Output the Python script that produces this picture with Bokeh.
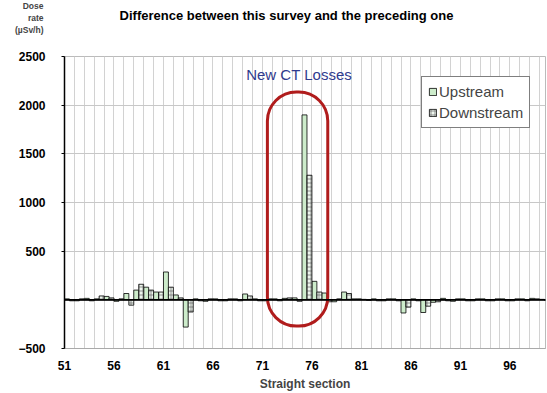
from bokeh.plotting import figure
from bokeh.layouts import column
from bokeh.models import (ColumnDataSource, FixedTicker, SingleIntervalTicker, Span, Label,
                          Legend, LegendItem, Range1d, LinearAxis)
from bokeh.embed import file_html
from bokeh.resources import INLINE
from bokeh.core.properties import value

# ---- data ----
sections = list(range(51, 100))
upstream = [10, -10, 15, 10, 35, -15, 65, 100, 130, 80,
            286, 50, -280, 10, -15, 10, -10, 10, 60, 10,
            -10, 10, 15, 20, 1900, 190, 70, -20, 80, 10,
            5, 10, -10, 10, -135, 10, -130, -25, 15, -15,
            10, -10, 10, -10, 10, -10, 10, 15, 5]
downstream = [-10, 10, -10, 40, 20, 10, -55, 160, 100, 80,
              130, 20, -125, -10, 10, -10, 10, -10, 40, -10,
              10, -10, 20, -15, 1280, 80, -20, 10, 65, 10,
              -5, -10, 10, -10, -75, -10, -65, -20, -10, 10,
              -10, 10, -10, 10, -10, 10, -10, 10, -5]
x_ticks = [51, 56, 61, 66, 71, 76, 81, 86, 91, 96]
y_ticks = [-500, 500, 1000, 1500, 2000, 2500]
title_text = "Difference between this survey and the preceding one"
y_label_text = "Dose\nrate\n(\u00b5Sv/h)"
x_label = "Straight section"
series_names = ["Upstream", "Downstream"]
note_text = "New CT Losses"
note_pos = [74.7, 2310]
highlight_box = [71.5, 77.6, -270, 2135]  # left, right, bottom, top

FONT = "Liberation Sans"
W, HEADER_H, H = 547, 48, 393
FRAME_L, FRAME_R = 64, 2

# ---- header strip holding the title and the unit label ----
head = figure(width=W, height=HEADER_H, output_backend="svg", toolbar_location=None,
              x_range=Range1d(FRAME_L, W - FRAME_R), y_range=Range1d(14, HEADER_H),
              x_axis_type=None, y_axis_type=None,
              min_border_left=FRAME_L, min_border_right=FRAME_R,
              min_border_top=0, min_border_bottom=14)
head.outline_line_color = None
head.grid.visible = False
head.background_fill_color = "white"
head.border_fill_color = "white"
head.add_layout(Label(x=286, y=HEADER_H - 15, text=title_text, text_align="center",
                      text_baseline="middle", text_font=FONT, text_font_style="bold",
                      text_font_size="13px", text_color="black"))
unit_axis = LinearAxis(ticker=FixedTicker(ticks=[]), axis_line_color=None,
                       major_tick_line_color=None, minor_tick_line_color=None,
                       major_label_text_font_size="0px",
                       axis_label=y_label_text, axis_label_orientation="horizontal",
                       axis_label_text_font=FONT, axis_label_text_font_style="bold",
                       axis_label_text_font_size="8.5px", axis_label_standoff=21,
                       axis_label_text_align="center", axis_label_text_line_height=1.2)
head.add_layout(unit_axis, "left")

# ---- main chart ----
p = figure(width=W, height=H - HEADER_H, output_backend="svg", toolbar_location=None,
           x_range=Range1d(51, 99.6), y_range=Range1d(-500, 2500),
           min_border_left=FRAME_L, min_border_right=FRAME_R, min_border_top=8,
           min_border_bottom=45)
p.background_fill_color = "white"
p.border_fill_color = "white"
p.outline_line_color = "#bbbbbb"

src = ColumnDataSource(dict(
    left_u=[s for s in sections], right_u=[s + 0.5 for s in sections],
    left_d=[s + 0.5 for s in sections], right_d=[s + 1.0 for s in sections],
    up=upstream, down=downstream, zero=[0] * len(sections)))

r_up = p.quad(left="left_u", right="right_u", bottom="zero", top="up", source=src,
              fill_color="#cdeccb", line_color="black", line_width=0.8)
r_dn = p.quad(left="left_d", right="right_d", bottom="zero", top="down", source=src,
              fill_color="#eef6ee", line_color="black", line_width=0.8,
              hatch_pattern="+", hatch_scale=4, hatch_color="#666666", hatch_weight=0.7)

p.add_layout(Span(location=0, dimension="width", line_color="black", line_width=1.6))

# highlight capsule
hb = dict(left=[highlight_box[0]], right=[highlight_box[1]],
          bottom=[highlight_box[2]], top=[highlight_box[3]])
p.quad(source=ColumnDataSource(hb), left="left", right="right", bottom="bottom", top="top",
       fill_alpha=0, line_color="#b01c1c", line_width=3, border_radius=29)

p.add_layout(Label(x=note_pos[0], y=note_pos[1], text=note_text, text_align="center",
                   text_baseline="middle", text_font=FONT, text_font_size="15px",
                   text_color="#2f3b8e"))

# axes
p.xaxis.ticker = FixedTicker(ticks=x_ticks)
p.yaxis.ticker = FixedTicker(ticks=y_ticks)
for ax in (p.xaxis, p.yaxis):
    ax.major_label_text_font = FONT
    ax.major_label_text_font_style = "bold"
    ax.major_label_text_font_size = "12px"
    ax.major_label_text_color = "black"
    ax.minor_tick_line_color = None
p.xaxis.axis_line_color = "#aaaaaa"
p.xaxis.major_tick_line_color = None
p.xaxis.major_label_standoff = 6
p.xaxis.axis_label = x_label
p.xaxis.axis_label_text_font = FONT
p.xaxis.axis_label_text_font_style = "bold"
p.xaxis.axis_label_text_font_size = "12px"
p.xaxis.axis_label_standoff = 4
p.yaxis.axis_line_color = "black"
p.yaxis.axis_line_width = 1.5
p.yaxis.major_tick_line_color = "black"
p.yaxis.major_tick_out = 3
p.yaxis.major_tick_in = 0
p.yaxis.major_label_standoff = 16

p.xgrid.ticker = SingleIntervalTicker(interval=1)
p.xgrid.grid_line_color = "#d2d2d2"
p.ygrid.ticker = FixedTicker(ticks=[500, 1000, 1500, 2000])
p.ygrid.grid_line_color = "#c8c8c8"

legend = Legend(items=[LegendItem(label=series_names[0], renderers=[r_up]),
                       LegendItem(label=series_names[1], renderers=[r_dn])],
                location=(357, 220), orientation="vertical",
                label_text_font=FONT, label_text_font_size="15px",
                glyph_width=9, glyph_height=9, spacing=4, padding=6, margin=0,
                label_standoff=2, label_height=16,
                border_line_color="black", border_line_width=1,
                background_fill_color="white", background_fill_alpha=1)
p.add_layout(legend)

layout = column(head, p, spacing=0)
open("out.html", "w").write(file_html(layout, INLINE))
